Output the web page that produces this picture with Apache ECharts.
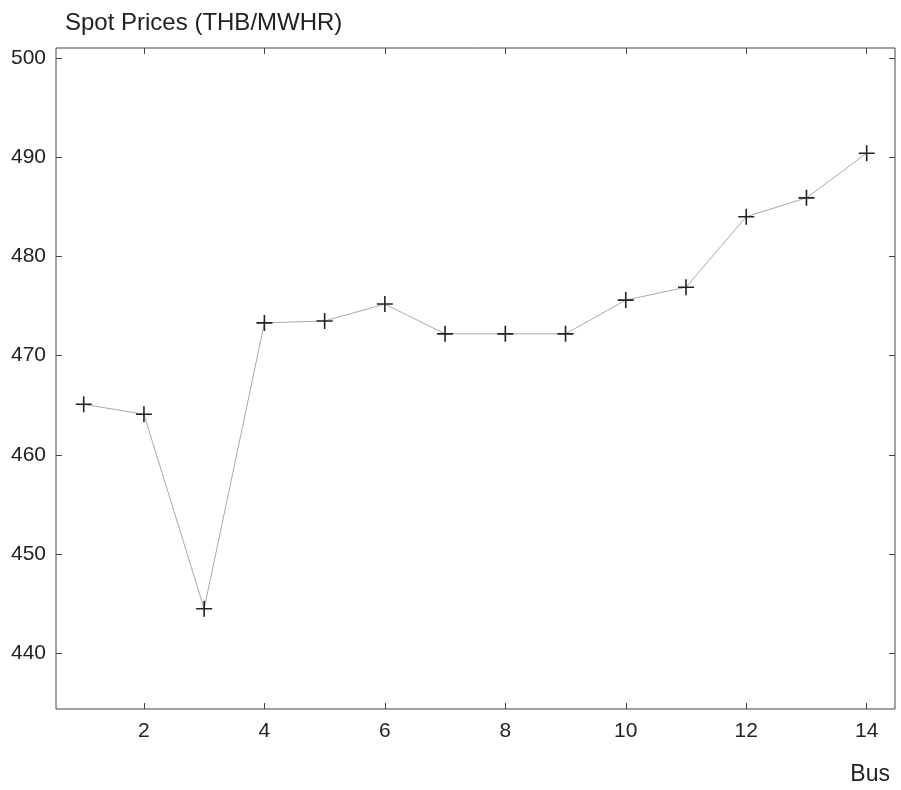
<!DOCTYPE html>
<html>
<head>
<meta charset="utf-8">
<script src="https://cdn.jsdelivr.net/npm/echarts@6/dist/echarts.min.js"></script>
<style>
  html, body { margin: 0; padding: 0; background: #fff; }
  #chartDiv { width: 901px; height: 790px; }
</style>
</head>
<body>
<div id="chartDiv"></div>
<script>
// 数据
let busNo = [1, 2, 3, 4, 5, 6, 7, 8, 9, 10, 11, 12, 13, 14];
let spotPrice = [465.1, 464.1, 444.5, 473.3, 473.5, 475.2, 472.2, 472.2, 472.2, 475.6, 476.9, 484.0, 485.9, 490.4];
let xTicks = [2, 4, 6, 8, 10, 12, 14];
let yTicks = [440, 450, 460, 470, 480, 490, 500];

let myChart = echarts.init(document.getElementById('chartDiv'));
window.onresize = myChart.resize;

let fontName = 'Liberation Sans, Arial, sans-serif';
let plusPath = 'path://M-1,-10 L1,-10 L1,-1 L10,-1 L10,1 L1,1 L1,10 L-1,10 L-1,1 L-10,1 L-10,-1 L-1,-1 Z';

let tickStyle = { lineStyle: { color: '#444', width: 1 } };

let xBase = {
    type: 'value',
    min: 0.54,
    max: 14.47,
    splitLine: { show: false },
    axisLine: { show: false }
};
let yBase = {
    type: 'value',
    min: 434.4,
    max: 501,
    splitLine: { show: false },
    axisLine: { show: false }
};

let option = {
    backgroundColor: '#fff',
    animation: false,
    textStyle: { fontFamily: fontName },
    title: [
        {
            text: 'Spot Prices (THB/MWHR)',
            left: 60,
            top: 6,
            textStyle: { fontFamily: fontName, fontSize: 24, fontWeight: 'normal', color: '#222' }
        },
        {
            text: 'Bus',
            right: 6,
            top: 758,
            textStyle: { fontFamily: fontName, fontSize: 23, fontWeight: 'normal', color: '#222' }
        }
    ],
    grid: {
        left: 56, right: 6, top: 48, bottom: 81,
        show: true,
        borderColor: '#444',
        borderWidth: 1
    },
    xAxis: [
        Object.assign({}, xBase, {
            position: 'bottom',
            axisTick: Object.assign({ inside: true, length: 6, customValues: xTicks }, tickStyle),
            axisLabel: { customValues: xTicks, fontSize: 21, color: '#222', margin: 12, fontFamily: fontName }
        }),
        Object.assign({}, xBase, {
            position: 'top',
            axisTick: Object.assign({ inside: true, length: 6, customValues: xTicks }, tickStyle),
            axisLabel: { show: false }
        })
    ],
    yAxis: [
        Object.assign({}, yBase, {
            position: 'left',
            axisTick: Object.assign({ inside: true, length: 6, customValues: yTicks }, tickStyle),
            axisLabel: { customValues: yTicks, fontSize: 21, color: '#222', margin: 10, fontFamily: fontName }
        }),
        Object.assign({}, yBase, {
            position: 'right',
            axisTick: Object.assign({ inside: true, length: 6, customValues: yTicks }, tickStyle),
            axisLabel: { show: false }
        })
    ],
    series: [
        {
            type: 'line',
            xAxisIndex: 0,
            yAxisIndex: 0,
            data: busNo.map((b, i) => [b, spotPrice[i]]),
            symbol: plusPath,
            symbolSize: 16,
            itemStyle: { color: '#222' },
            lineStyle: { color: '#aaaaaa', width: 1 }
        }
    ]
};
myChart.setOption(option);
</script>
</body>
</html>
